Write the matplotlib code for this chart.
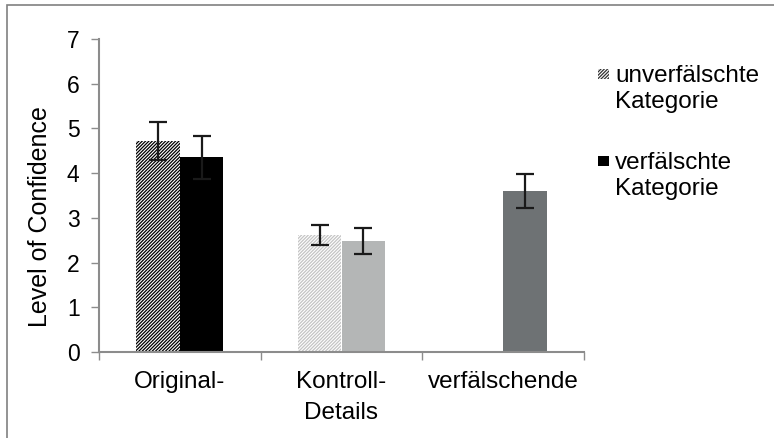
import numpy as np
import matplotlib.pyplot as plt
from matplotlib.patches import Rectangle

plt.rcParams['font.family'] = ['Liberation Sans', 'DejaVu Sans']
plt.rcParams['hatch.linewidth'] = 0.9

# categories and bar values (level of confidence, mean +- error)
categories = ["Original-", "Kontroll-\nDetails", "verfälschende"]
unverf = [4.72, 2.62, None]
unverf_err = [0.42, 0.23, None]
verf = [4.35, 2.49, 3.60]
verf_err = [0.47, 0.29, 0.39]
legend_labels = ["unverfälschte\nKategorie", "verfälschte\nKategorie"]

unverf_colors = ["black", "#c4c4c4", None]
verf_colors = ["black", "#b4b6b6", "#6e7274"]

axis_grey = "#8c8c8c"
hatch = "//////////"

fig = plt.figure(figsize=(7.74, 4.38), dpi=100)
ax = fig.add_axes([99/774, 1-352/438, (584-99)/774, (352-39)/438])

w = 0.27
x = np.arange(len(categories))
for i in x:
    if unverf[i] is not None:
        ax.bar(i - w/2, unverf[i], width=w, facecolor="white",
               edgecolor=unverf_colors[i], hatch=hatch, linewidth=0)
        ax.errorbar(i - w/2, unverf[i], yerr=unverf_err[i], fmt="none",
                    ecolor="#1a1a1a", elinewidth=1.6, capsize=6.5, capthick=1.6)
    ax.bar(i + w/2, verf[i], width=w, color=verf_colors[i], linewidth=0)
    ax.errorbar(i + w/2, verf[i], yerr=verf_err[i], fmt="none",
                ecolor="#1a1a1a", elinewidth=1.6, capsize=6.5, capthick=1.6)

ax.set_xlim(-0.5, 2.5)
ax.set_ylim(0, 7)
ax.set_yticks(range(8))
ax.set_xticks([-0.5, 0.5, 1.5, 2.5])
ax.set_xticklabels([])
ax.tick_params(axis="y", direction="out", length=6, width=1, color=axis_grey,
               labelsize=16.5, pad=8)
ax.tick_params(axis="x", direction="out", length=6, width=1, color=axis_grey)

# category names below the axis, one text per line
for i, lab in enumerate(categories):
    for j, line in enumerate(lab.split("\n")):
        fig.text(ax.transData.transform((i, 0))[0] / fig.dpi / 7.74,
                 1 - (388 + 31*j)/438, line, ha="center", va="baseline",
                 fontsize=17.5)

for s in ["top", "right"]:
    ax.spines[s].set_visible(False)
for s in ["left", "bottom"]:
    ax.spines[s].set_color(axis_grey)
    ax.spines[s].set_linewidth(1.5)

fig.text(40/774, 1-217/438, "Level of Confidence", rotation=90,
         ha="center", va="center", fontsize=18)

# legend, drawn by hand so the key sits next to the first text line
leg_base = [82, 169]
for k, lab in enumerate(legend_labels):
    top = leg_base[k] - 13
    if k == 0:
        key = Rectangle((598/774, 1-(top+10)/438), 11/774, 10/438,
                        transform=fig.transFigure, facecolor="white",
                        edgecolor="#333333", hatch=hatch, linewidth=0)
    else:
        key = Rectangle((598/774, 1-(top+10)/438), 11/774, 10/438,
                        transform=fig.transFigure, facecolor="black", linewidth=0)
    fig.patches.append(key)
    for j, line in enumerate(lab.split("\n")):
        fig.text(615/774, 1-(leg_base[k] + 26*j)/438, line, ha="left",
                 va="baseline", fontsize=17.5)

# outer frame
fig.patches.append(Rectangle((7/774, -0.1), 1.2, 1-5/438+0.1, transform=fig.transFigure,
                             fill=False, edgecolor="#808080", linewidth=1.2))

fig.savefig("out.png", dpi=100)
